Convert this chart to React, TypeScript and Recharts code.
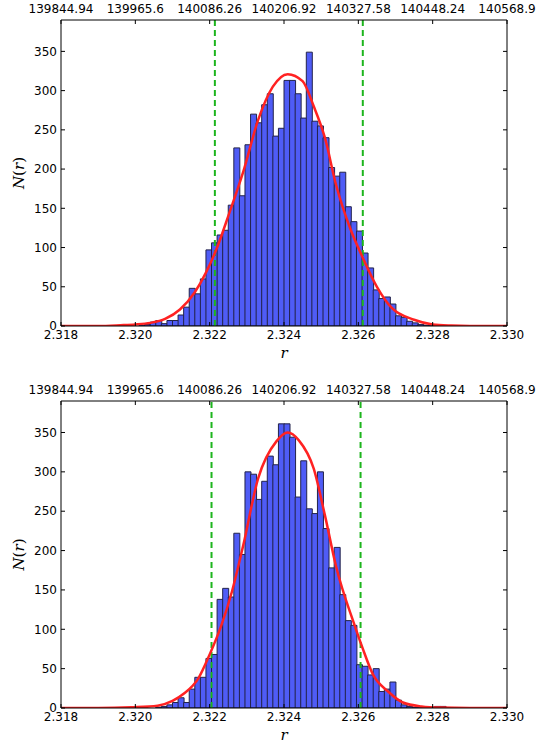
import { Bar, ComposedChart, Line, ReferenceLine, XAxis, YAxis } from 'recharts';

// bottom axis ticks (r) and the matching labels of the top axis
const rTicks = [2.318, 2.32, 2.322, 2.324, 2.326, 2.328, 2.33];
const topTickLabels = ['139844.94', '139965.6', '140086.26', '140206.92', '140327.58', '140448.24', '140568.9'];
const countTicks = [0, 50, 100, 150, 200, 250, 300, 350];

// histogram counts, 80 bins of width 0.00015 covering 2.318 .. 2.330
const topCounts = [
  0, 0, 0, 0, 0, 0, 0, 0, 0, 0,
  0, 0, 0, 0, 1, 2, 5, 7, 3, 7,
  7, 14, 24, 48, 41, 60, 97, 106, 116, 122,
  154, 227, 166, 231, 270, 259, 282, 296, 242, 252,
  313, 313, 296, 265, 349, 261, 255, 240, 202, 191,
  196, 152, 133, 121, 93, 74, 46, 35, 37, 28,
  13, 11, 6, 4, 2, 1, 1, 0, 0, 0,
  0, 0, 0, 0, 0, 0, 0, 0, 0, 0,
];
const bottomCounts = [
  0, 0, 0, 0, 0, 0, 0, 0, 0, 0,
  0, 0, 0, 0, 0, 0, 0, 1, 2, 4,
  7, 13, 7, 24, 39, 39, 63, 68, 138, 152,
  141, 222, 195, 300, 297, 265, 288, 320, 309, 361,
  361, 344, 268, 314, 253, 247, 300, 228, 178, 204,
  144, 111, 105, 55, 53, 42, 50, 21, 24, 33,
  10, 4, 2, 1, 1, 0, 1, 2, 2, 0,
  0, 0, 0, 0, 0, 0, 0, 0, 0, 0,
];

// fitted curves
const topFitR = [2.318, 2.319, 2.3196, 2.32, 2.3204, 2.3208, 2.3212, 2.3216, 2.3219, 2.3222, 2.3225, 2.3229, 2.3233, 2.3237, 2.3241, 2.3245, 2.3248, 2.3251, 2.3254, 2.3258, 2.3261, 2.3265, 2.3269, 2.3275, 2.328, 2.3285, 2.329, 2.33];
const topFitN = [0, 0, 1, 2, 4, 9, 21, 43, 68, 100, 140, 196, 262, 305, 321, 312, 280, 240, 180, 122, 89, 50, 23, 8, 2, 0.5, 0, 0];
const bottomFitR = [2.318, 2.319, 2.3199, 2.3206, 2.321, 2.3213, 2.3217, 2.322, 2.3223, 2.3226, 2.3229, 2.3233, 2.3238, 2.3241, 2.3244, 2.3248, 2.3251, 2.3254, 2.3259, 2.3261, 2.3264, 2.3268, 2.3272, 2.3277, 2.3282, 2.329, 2.33];
const bottomFitN = [0, 0, 1, 3, 9, 18, 38, 68, 103, 148, 206, 291, 339, 350, 340, 304, 245, 180, 105, 78, 42, 21, 7, 2, 0.5, 0, 0];

// dashed limits
const topCuts = [2.32214, 2.32612];
const bottomCuts = [2.32205, 2.32606];

const font = 'DejaVu Sans, sans-serif';
const tickStyle = { fontSize: 12, fill: '#000', fontFamily: font };

type PanelProps = {
  counts: number[];
  fitR: number[];
  fitN: number[];
  cuts: number[];
  top: number;
  bottom: number;
};

function Panel({ counts, fitR, fitN, cuts, top, bottom }: PanelProps) {
  const bins = counts.map((n, i) => ({ bin: i, n }));
  const fit = fitR.map((r, i) => ({ r, n: fitN[i] }));
  return (
    <ComposedChart width={538} height={374} data={bins} margin={{ top, right: 30, bottom, left: 0 }} barCategoryGap={0} barGap={0}>
      <XAxis
        xAxisId="num"
        dataKey="r"
        type="number"
        domain={[2.318, 2.33]}
        ticks={rTicks}
        interval={0}
        allowDataOverflow
        height={40}
        tickFormatter={(v: number) => v.toFixed(3)}
        tick={tickStyle}
        tickSize={-4}
        tickMargin={8}
        tickLine={{ stroke: '#000' }}
        axisLine={{ stroke: '#000' }}
        label={{
          content: (p: any) => (
            <text x={p.viewBox.x + p.viewBox.width / 2} y={p.viewBox.y + 32} textAnchor="middle" fontFamily="DejaVu Serif, serif" fontStyle="italic" fontSize={15}>
              r
            </text>
          ),
        }}
      />
      <XAxis xAxisId="bins" dataKey="bin" type="category" hide height={0} padding={{ left: 0, right: 0 }} />
      <XAxis
        xAxisId="top"
        dataKey="r"
        orientation="top"
        type="number"
        domain={[2.318, 2.33]}
        ticks={rTicks}
        interval={0}
        allowDataOverflow
        height={20}
        tickFormatter={(_v: number, i: number) => topTickLabels[i]}
        tick={tickStyle}
        tickSize={-4}
        tickMargin={11}
        tickLine={{ stroke: '#000' }}
        axisLine={{ stroke: '#000' }}
      />
      <YAxis
        yAxisId="left"
        domain={[0, 390]}
        ticks={countTicks}
        interval={0}
        allowDataOverflow
        width={61}
        tick={tickStyle}
        tickSize={-4}
        tickMargin={8}
        tickLine={{ stroke: '#000' }}
        axisLine={{ stroke: '#000' }}
        label={{
          content: (p: any) => {
            const cx = 20;
            const cy = p.viewBox.y + p.viewBox.height / 2;
            return (
              <text x={cx} y={cy} transform={`rotate(-90 ${cx} ${cy})`} textAnchor="middle" dominantBaseline="middle" fontFamily="DejaVu Serif, serif" fontSize={15}>
                <tspan fontStyle="italic">N</tspan>(<tspan fontStyle="italic">r</tspan>)
              </text>
            );
          },
        }}
      />
      <YAxis
        yAxisId="right"
        orientation="right"
        domain={[0, 390]}
        ticks={countTicks}
        interval={0}
        allowDataOverflow
        width={1}
        tickFormatter={() => ''}
        tickSize={-4}
        tickLine={{ stroke: '#000' }}
        axisLine={{ stroke: '#000' }}
      />
      <Bar xAxisId="bins" yAxisId="left" dataKey="n" fill="#4f5cf6" stroke="#23234a" strokeWidth={1} isAnimationActive={false} />
      {cuts.map((c) => (
        <ReferenceLine key={c} xAxisId="num" yAxisId="left" x={c} stroke="#1db51d" strokeWidth={2} strokeDasharray="6 4" />
      ))}
      {/* invisible copy so the top and right axes get a scale */}
      <Line
        xAxisId="top"
        yAxisId="right"
        data={fit}
        dataKey="n"
        stroke="none"
        dot={false}
        activeDot={false}
        legendType="none"
        isAnimationActive={false}
      />
      <Line
        xAxisId="num"
        yAxisId="left"
        data={fit}
        dataKey="n"
        type="monotone"
        stroke="#ff2222"
        strokeWidth={2.5}
        dot={false}
        isAnimationActive={false}
      />
    </ComposedChart>
  );
}

export default function App() {
  return (
    <div style={{ position: 'absolute', left: 0, top: 0, width: 538, height: 748, background: '#fff' }}>
      <Panel counts={topCounts} fitR={topFitR} fitN={topFitN} cuts={topCuts} top={0} bottom={8} />
      <Panel counts={bottomCounts} fitR={bottomFitR} fitN={bottomFitN} cuts={bottomCuts} top={7} bottom={0} />
    </div>
  );
}
